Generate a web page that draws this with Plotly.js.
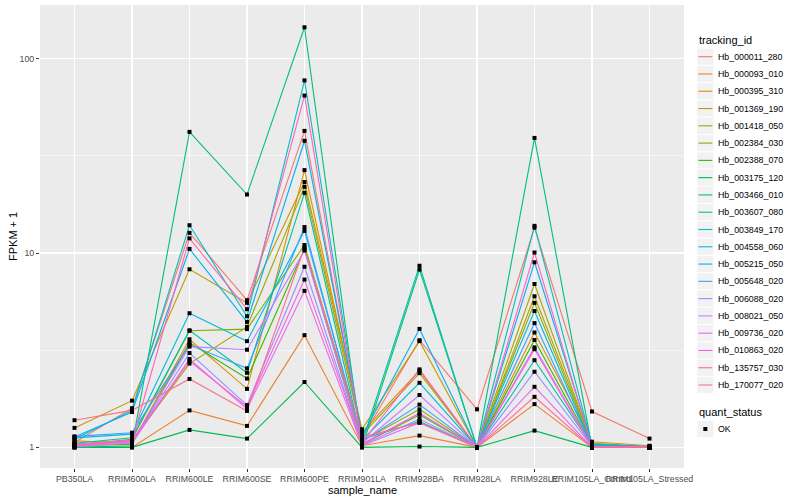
<!DOCTYPE html>
<html>
<head>
<meta charset="utf-8">
<script src="https://cdn.plot.ly/plotly-3.0.1.min.js"></script>
<style>
  html, body { margin: 0; padding: 0; background: #ffffff; }
  #chart { width: 800px; height: 500px; }
</style>
</head>
<body>
<div id="chart"></div>
<script>
// ---------------- data ----------------
const samples = ['PB350LA','RRIM600LA','RRIM600LE','RRIM600SE','RRIM600PE','RRIM901LA',
                 'RRIM928BA','RRIM928LA','RRIM928LE','RRIM105LA_Control','RRIM105LA_Stressed'];

const trackingIds = ['Hb_000011_280','Hb_000093_010','Hb_000395_310','Hb_001369_190','Hb_001418_050',
                     'Hb_002384_030','Hb_002388_070','Hb_003175_120','Hb_003466_010','Hb_003607_080',
                     'Hb_003849_170','Hb_004558_060','Hb_005215_050','Hb_005648_020','Hb_006088_020',
                     'Hb_008021_050','Hb_009736_020','Hb_010863_020','Hb_135757_030','Hb_170077_020'];

const colors = ['#F8766D','#EA8331','#D89000','#C09B00','#A3A500','#7CAE00','#39B600','#00BB4E',
                '#00BF7D','#00C1A3','#00BFC4','#00BAE0','#00B0F6','#35A2FF','#9590FF','#C77CFF',
                '#E76BF3','#FA62DB','#FF62BC','#FF6C91'];

// FPKM + 1 per tracking id, in sample order
const hb_000011_280 = [1.06, 1.59, 12.7, 5.72, 42.5, 1.12, 3.56, 1.57, 13.5, 1.53, 1.11];
const hb_000093_010 = [1.00, 1.00, 1.55, 1.29, 3.78, 1.02, 1.15, 1.00, 1.67, 1.00, 1.00];
const hb_000395_310 = [1.08, 1.05, 3.60, 2.00, 26.7, 1.20, 2.48, 1.00, 3.90, 1.07, 1.02];
const hb_001369_190 = [1.26, 1.74, 8.25, 5.54, 23.2, 1.24, 3.52, 1.00, 5.99, 1.05, 1.01];
const hb_001418_050 = [1.04, 1.08, 2.70, 4.17, 21.9, 1.16, 2.41, 1.00, 6.93, 1.04, 1.00];
const hb_002384_030 = [1.03, 1.10, 3.98, 4.06, 11.0, 1.08, 1.57, 1.00, 5.54, 1.03, 1.00];
const hb_002388_070 = [1.02, 1.04, 3.45, 2.26, 10.5, 1.04, 1.47, 1.00, 3.57, 1.02, 1.00];
const hb_003175_120 = [1.00, 1.00, 1.23, 1.11, 2.17, 1.00, 1.01, 1.00, 1.22, 1.00, 1.00];
const hb_003466_010 = [1.00, 1.02, 42.0, 20.0, 145., 1.00, 8.22, 1.00, 39.1, 1.00, 1.00];
const hb_003607_080 = [1.05, 1.12, 4.00, 2.42, 20.4, 1.06, 8.60, 1.00, 2.81, 1.02, 1.00];
const hb_003849_170 = [1.10, 1.55, 13.9, 4.73, 77.3, 1.10, 1.36, 1.00, 13.8, 1.03, 1.00];
const hb_004558_060 = [1.12, 1.17, 4.90, 3.52, 13.0, 1.09, 2.15, 1.00, 5.03, 1.02, 1.00];
const hb_005215_050 = [1.13, 1.52, 10.5, 4.42, 37.8, 1.14, 4.07, 1.00, 8.96, 1.04, 1.01];
const hb_005648_020 = [1.14, 1.19, 3.37, 2.55, 13.6, 1.07, 1.66, 1.00, 4.36, 1.01, 1.00];
const hb_006088_020 = [1.04, 1.06, 3.06, 1.65, 8.50, 1.03, 1.40, 1.00, 2.45, 1.01, 1.00];
const hb_008021_050 = [1.02, 1.07, 3.30, 3.18, 10.3, 1.05, 1.86, 1.00, 3.27, 1.01, 1.00];
const hb_009736_020 = [1.01, 1.05, 2.85, 1.58, 6.39, 1.02, 1.34, 1.00, 2.05, 1.00, 1.00];
const hb_010863_020 = [1.03, 1.09, 2.78, 1.62, 7.30, 1.04, 1.50, 1.00, 3.20, 1.00, 1.00];
const hb_135757_030 = [1.02, 1.08, 11.9, 5.14, 64.6, 1.06, 2.52, 1.00, 10.06, 1.01, 1.00];
const hb_170077_020 = [1.38, 1.55, 2.25, 1.54, 10.7, 1.13, 1.34, 1.00, 1.82, 1.00, 1.00];

const seriesValues = [hb_000011_280, hb_000093_010, hb_000395_310, hb_001369_190, hb_001418_050,
                      hb_002384_030, hb_002388_070, hb_003175_120, hb_003466_010, hb_003607_080,
                      hb_003849_170, hb_004558_060, hb_005215_050, hb_005648_020, hb_006088_020,
                      hb_008021_050, hb_009736_020, hb_010863_020, hb_135757_030, hb_170077_020];

const yTickVals = [1, 10, 100];
const yTickText = ['1', '10', '100'];
const quantStatus = ['OK'];

// ---------------- geometry ----------------
const W = 800, H = 500;
const M = {l: 40, r: 116, t: 5, b: 32};
const PW = W - M.l - M.r, PH = H - M.t - M.b;
const px = x => (x - M.l) / PW;
const py = y => (H - M.b - y) / PH;
const FONT = 'Liberation Sans, Arial, Helvetica, sans-serif';

// ---------------- traces ----------------
const traces = [];
seriesValues.forEach((vals, i) => {
  traces.push({
    type: 'scatter', mode: 'lines', name: trackingIds[i],
    x: samples, y: vals,
    line: {color: colors[i], width: 1.1},
    showlegend: false, hoverinfo: 'x+y+name'
  });
});
const allX = [], allY = [];
seriesValues.forEach(vals => vals.forEach((v, j) => { allX.push(samples[j]); allY.push(v); }));
traces.push({
  type: 'scatter', mode: 'markers', name: quantStatus[0],
  x: allX, y: allY,
  marker: {symbol: 'square', size: 4, color: '#000000', line: {width: 0}},
  showlegend: false
});

// ---------------- manual ggplot-like legend ----------------
const shapes = [], annotations = [];
const keyX0 = 696.7, keyW = 17.28, firstY = 56.7, step = 17.28;
annotations.push({xref: 'paper', yref: 'paper', x: px(keyX0), y: py(40), xanchor: 'left', yanchor: 'middle',
  text: 'tracking_id', showarrow: false, font: {family: FONT, size: 11, color: '#000000'}});
trackingIds.forEach((id, i) => {
  const yc = firstY + i * step;
  shapes.push({type: 'rect', xref: 'paper', yref: 'paper', layer: 'above',
    x0: px(keyX0), x1: px(keyX0 + keyW), y0: py(yc + keyW / 2), y1: py(yc - keyW / 2),
    fillcolor: '#F2F2F2', line: {color: '#FFFFFF', width: 1}});
  shapes.push({type: 'line', xref: 'paper', yref: 'paper', layer: 'above',
    x0: px(keyX0 + 1.7), x1: px(keyX0 + keyW - 1.7), y0: py(yc), y1: py(yc),
    line: {color: colors[i], width: 1.1}});
  annotations.push({xref: 'paper', yref: 'paper', x: px(716.2), y: py(yc), xanchor: 'left', yanchor: 'middle',
    text: id, showarrow: false, font: {family: FONT, size: 8.8, color: '#000000'}});
});
annotations.push({xref: 'paper', yref: 'paper', x: px(keyX0), y: py(412), xanchor: 'left', yanchor: 'middle',
  text: 'quant_status', showarrow: false, font: {family: FONT, size: 11, color: '#000000'}});
const okY = 429;
shapes.push({type: 'rect', xref: 'paper', yref: 'paper', layer: 'above',
  x0: px(keyX0), x1: px(keyX0 + keyW), y0: py(okY + keyW / 2), y1: py(okY - keyW / 2),
  fillcolor: '#F2F2F2', line: {color: '#FFFFFF', width: 1}});
shapes.push({type: 'rect', xref: 'paper', yref: 'paper', layer: 'above',
  x0: px(keyX0 + keyW / 2 - 2), x1: px(keyX0 + keyW / 2 + 2), y0: py(okY + 2), y1: py(okY - 2),
  fillcolor: '#000000', line: {width: 0}});
annotations.push({xref: 'paper', yref: 'paper', x: px(716.2), y: py(okY), xanchor: 'left', yanchor: 'middle',
  text: quantStatus[0], showarrow: false, font: {family: FONT, size: 8.8, color: '#000000'}});

// axis titles (ggplot positions)
annotations.push({xref: 'paper', yref: 'paper', x: 0.5, y: py(490.5), xanchor: 'center', yanchor: 'middle',
  text: 'sample_name', showarrow: false, font: {family: FONT, size: 11, color: '#000000'}});
annotations.push({xref: 'paper', yref: 'paper', x: px(12.5), y: 0.5, xanchor: 'center', yanchor: 'middle',
  textangle: -90, text: 'FPKM + 1', showarrow: false, font: {family: FONT, size: 11, color: '#000000'}});

// ---------------- layout ----------------
const layout = {
  width: W, height: H,
  margin: M,
  paper_bgcolor: '#FFFFFF',
  plot_bgcolor: '#EBEBEB',
  font: {family: FONT, size: 8.8, color: '#4D4D4D'},
  showlegend: false,
  xaxis: {
    type: 'category', categoryorder: 'array', categoryarray: samples,
    range: [-0.6, samples.length - 0.4],
    showgrid: true, gridcolor: '#FFFFFF', gridwidth: 1.1,
    zeroline: false, showline: false,
    ticks: 'outside', ticklen: 2.5, tickwidth: 1, tickcolor: '#333333',
    tickangle: 0, tickfont: {family: FONT, size: 8.8, color: '#4D4D4D'},
    fixedrange: true
  },
  yaxis: {
    type: 'log',
    range: [-0.106, 2.276],
    tickmode: 'array', tickvals: yTickVals, ticktext: yTickText,
    showgrid: true, gridcolor: '#FFFFFF', gridwidth: 1.1,
    minor: {tickmode: 'array', tickvals: [Math.sqrt(10), Math.sqrt(1000)], showgrid: true,
            gridcolor: '#FFFFFF', gridwidth: 0.55, ticklen: 0},
    zeroline: false, showline: false,
    ticks: 'outside', ticklen: 3, tickwidth: 1, tickcolor: '#333333',
    tickfont: {family: FONT, size: 8.8, color: '#4D4D4D'},
    fixedrange: true
  },
  shapes: shapes,
  annotations: annotations
};

Plotly.newPlot('chart', traces, layout, {staticPlot: true, displayModeBar: false});
</script>
</body>
</html>
